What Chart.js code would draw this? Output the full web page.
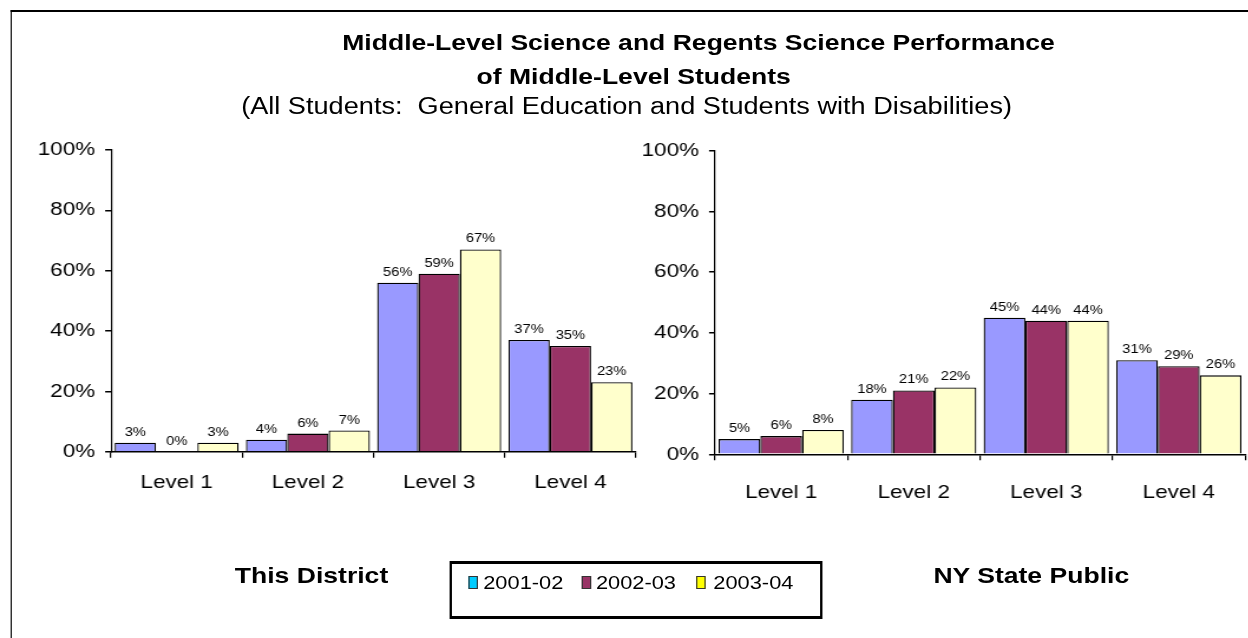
<!DOCTYPE html>
<html>
<head>
<meta charset="utf-8">
<script src="https://cdn.jsdelivr.net/npm/chart.js@4.4.0/dist/chart.umd.min.js"></script>
<style>
  html, body { margin: 0; padding: 0; background: #fff; overflow: hidden; }
  /* the source picture is stretched sideways, so draw narrow and stretch */
  #page { position: absolute; left: 0; top: 0; width: 1058px; height: 638px;
          transform: scaleX(1.18); transform-origin: 0 0;
          font-family: "Liberation Sans", Arial, sans-serif; color: #000; }
  .frame { position: absolute; left: 8.5px; top: 10px; width: 1060px; height: 640px;
           border-top: 2px solid #000; border-left: 1.7px solid #000; }
  .txt { position: absolute; white-space: nowrap; text-align: center; }
  .title { font-weight: bold; font-size: 22.5px; line-height: 26px; width: 800px; }
  .sub { font-size: 23px; line-height: 26px; width: 800px; }
  .panel { font-weight: bold; font-size: 22.5px; line-height: 26px; width: 400px; }
  #legend { position: absolute; left: 380.5px; top: 561px; width: 316px; height: 58px;
            box-sizing: border-box; border: 3.3px solid #000; border-left-width: 2.8px; border-right-width: 2.8px; }
  .sw { position: absolute; width: 8px; height: 13px; box-sizing: border-box; border: 1px solid #333; }
  .lt { position: absolute; font-size: 18.5px; line-height: 22px; white-space: nowrap; }
  canvas { position: absolute; }
</style>
</head>
<body>
<div id="page">
  <div class="frame"></div>
  <div class="txt title" style="left:192px; top:30px;">Middle-Level Science and Regents Science Performance</div>
  <div class="txt title" style="left:137px; top:64px;">of Middle-Level Students</div>
  <div class="txt sub" style="left:131px; top:93px;">(All Students:&nbsp; General Education and Students with Disabilities)</div>

  <canvas id="district" width="560" height="400" style="left:0; top:130px;"></canvas>
  <canvas id="state" width="528" height="400" style="left:530px; top:130px;"></canvas>

  <div class="txt panel" style="left:64px; top:563px;">This District</div>
  <div class="txt panel" style="left:674px; top:563px;">NY State Public</div>
  <div id="legend"></div>
</div>

<script>
// categories and series
const categories = ["Level 1", "Level 2", "Level 3", "Level 4"];
const seriesNames = ["2001-02", "2002-03", "2003-04"];

// This District (percent)
const district0102 = [3, 4, 56, 37];
const district0203 = [0, 6, 59, 35];
const district0304 = [3, 7, 67, 23];

// NY State Public (percent)
const state0102 = [5, 18, 45, 31];
const state0203 = [6, 21, 44, 29];
const state0304 = [8, 22, 44, 26];

// y axis tick values
const yTicks = [0, 20, 40, 60, 80, 100];

// colours
const barColors = ["#9999FF", "#993366", "#FFFFCC"];
const legendColors = ["#00CCFF", "#993366", "#FFFF00"];

Chart.defaults.font.family = '"Liberation Sans", Arial, sans-serif';
Chart.defaults.color = "#000";

// value labels above each bar
const barLabels = {
  id: "barLabels",
  afterDatasetsDraw(chart) {
    const ctx = chart.ctx;
    ctx.save();
    ctx.font = '12.5px "Liberation Sans", Arial, sans-serif';
    ctx.fillStyle = "#000";
    ctx.textAlign = "center";
    ctx.textBaseline = "middle";
    chart.data.datasets.forEach(function (ds, i) {
      chart.getDatasetMeta(i).data.forEach(function (bar, j) {
        ctx.fillText(ds.data[j] + "%", bar.x, bar.y - 10.5);
      });
    });
    ctx.restore();
  },
};

function makeChart(id, series, g) {
  return new Chart(document.getElementById(id), {
    type: "bar",
    data: {
      labels: categories,
      datasets: series.map(function (values, i) {
        return {
          label: seriesNames[i],
          data: values,
          backgroundColor: barColors[i],
          borderColor: "#000",
          borderWidth: 1.3,
          categoryPercentage: 0.945,
          barPercentage: 1,
        };
      }),
    },
    options: {
      responsive: false,
      animation: false,
      layout: { padding: { top: g.padTop, right: g.padRight, left: 0, bottom: 0 } },
      plugins: { legend: { display: false }, tooltip: { enabled: false } },
      scales: {
        x: {
          grid: { offset: true, drawOnChartArea: false, tickLength: 6, color: "#000", lineWidth: 1.2 },
          border: { color: "#000", width: 1.5 },
          ticks: { font: { size: 19 }, color: "#000", padding: g.labelPad, maxRotation: 0, autoSkip: false },
          afterFit: function (s) { s.height = g.xAxisH; },
        },
        y: {
          min: 0,
          max: 100,
          afterBuildTicks: function (s) { s.ticks = yTicks.map(function (v) { return { value: v }; }); },
          grid: { drawOnChartArea: false, tickLength: 5, color: "#000", lineWidth: 1.5 },
          border: { color: "#000", width: 1.2 },
          ticks: { font: { size: 19 }, color: "#000", padding: 8.5, callback: function (v) { return v + "%"; } },
          afterFit: function (s) { s.width = g.axisW; },
        },
      },
    },
    plugins: [barLabels],
  });
}

makeChart("district", [district0102, district0203, district0304],
  { axisW: 94.1, padTop: 19.3, padRight: 21, xAxisH: 78.3, labelPad: 14 });
makeChart("state", [state0102, state0203, state0304],
  { axisW: 75.9, padTop: 20.7, padRight: 2.9, xAxisH: 75.7, labelPad: 21 });

// shared legend
const legendX = [[14, 27], [110, 122.5], [207, 222]];
const legend = document.getElementById("legend");
seriesNames.forEach(function (name, i) {
  const sw = document.createElement("div");
  sw.className = "sw";
  sw.style.background = legendColors[i];
  sw.style.left = legendX[i][0] + "px";
  sw.style.top = "12px";
  legend.appendChild(sw);
  const t = document.createElement("div");
  t.className = "lt";
  t.textContent = name;
  t.style.left = legendX[i][1] + "px";
  t.style.top = "8px";
  legend.appendChild(t);
});
</script>
</body>
</html>
